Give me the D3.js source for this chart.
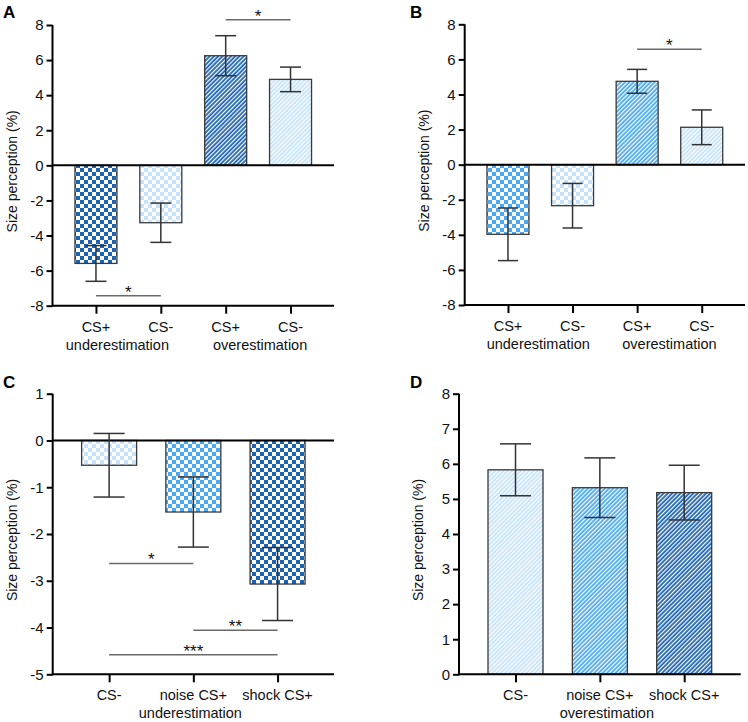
<!DOCTYPE html>
<meta charset="utf-8">
<head>
  <meta charset="UTF-8">
</head>
<style>
body { margin: 0; background: #fff; }
svg { font-family: "Liberation Sans", Arial, sans-serif; }
.axis path, .axis line { stroke: #000; stroke-width: 2; }
.bar { stroke: #3a3a3a; stroke-width: 1.3; }
.err line { stroke: #333; stroke-width: 1.5; }
.sig line { stroke: #6a6a6a; stroke-width: 1.5; }
</style>
<body>
<script src="https://cdn.jsdelivr.net/npm/d3@7/dist/d3.min.js"></script>
<script type="text/javascript">

// --------------------------- data --------------------------
var catsAB = ["CS+", "CS-", "CS+ ", "CS- "];
var catsCD = ["CS-", "noise CS+", "shock CS+"];

var aMeans = [-5.59, -3.27, 6.25, 4.90];
var aSems  = [1.02, 1.12, 1.14, 0.70];
var aFills = ["checkDark", "checkLight", "stripeDark", "stripeLight"];

var bMeans = [-3.97, -2.34, 4.75, 2.13];
var bSems  = [1.50, 1.27, 0.68, 0.99];
var bFills = ["checkMid", "checkLight", "stripeMid", "stripeLight"];

var cMeans = [-0.53, -1.53, -3.07];
var cSems  = [0.68, 0.75, 0.78];
var cFills = ["checkLight", "checkMid", "checkDark"];

var dMeans = [5.83, 5.32, 5.18];
var dSems  = [0.74, 0.85, 0.78];
var dFills = ["stripeLight", "stripeMid", "stripeDark"];

var ticksAB = [-8, -6, -4, -2, 0, 2, 4, 6, 8];
var ticksC  = [-5, -4, -3, -2, -1, 0, 1];
var ticksD  = [0, 1, 2, 3, 4, 5, 6, 7, 8];

// significance brackets: [from index, to index, y value, label]
var aSig = [[2, 3, 8.3, "*"], [0, 1, -7.43, "*"]];
var bSig = [[2, 3, 6.58, "*"]];
var cSig = [[0, 1, -2.63, "*"], [1, 2, -4.06, "**"], [0, 2, -4.58, "***"]];
var dSig = [];

var colors = {dark: "#1c63b5", mid: "#4aa9f3", light: "#c6e3fb"};

// --------------------------- svg + patterns --------------------------
var svg = d3.select("body").append("svg")
    .attr("width", 748)
    .attr("height", 722);

var defs = svg.append("defs");

function checker(id, color) {
  var p = defs.append("pattern")
      .attr("id", id)
      .attr("patternUnits", "userSpaceOnUse")
      .attr("width", 8).attr("height", 8);
  p.append("rect").attr("width", 8).attr("height", 8).attr("fill", "#fff");
  p.append("rect").attr("width", 4).attr("height", 4).attr("fill", color);
  p.append("rect").attr("x", 4).attr("y", 4).attr("width", 4).attr("height", 4).attr("fill", color);
}

function stripes(id, color) {
  var p = defs.append("pattern")
      .attr("id", id)
      .attr("patternUnits", "userSpaceOnUse")
      .attr("width", 3).attr("height", 10)
      .attr("patternTransform", "rotate(45)");
  p.append("rect").attr("width", 3).attr("height", 10).attr("fill", color);
  p.append("rect").attr("width", 1.2).attr("height", 10).attr("fill", "#fff");
}

checker("checkDark", colors.dark);
checker("checkMid", colors.mid);
checker("checkLight", colors.light);
stripes("stripeDark", colors.dark);
stripes("stripeMid", colors.mid);
stripes("stripeLight", colors.light);

// --------------------------- panels --------------------------
function drawPanel(o) {
  var g = svg.append("g");

  var x = d3.scalePoint()
      .domain(o.cats)
      .range([o.x0, o.x1])
      .padding(0.67);

  var y = d3.scaleLinear()
      .domain(o.domain)
      .range([o.yBottom, o.yTop]);

  var rows = o.cats.map(function(c, i) {
    return {cat: c, mean: o.means[i], sem: o.sems[i], fill: o.fills[i]};
  });

  // bars
  g.selectAll(".bar")
      .data(rows)
    .enter().append("rect")
      .attr("class", "bar")
      .attr("x", function(d) { return x(d.cat) - o.barW / 2; })
      .attr("width", o.barW)
      .attr("y", function(d) { return y(Math.max(0, d.mean)); })
      .attr("height", function(d) { return Math.abs(y(d.mean) - y(0)); })
      .attr("fill", function(d) { return "url(#" + d.fill + ")"; });

  // y axis
  var yAxis = g.append("g")
      .attr("class", "axis")
      .attr("transform", "translate(" + o.x0 + ",0)")
      .call(d3.axisLeft(y).tickValues(o.ticks).tickSize(6).tickSizeOuter(0)
        .tickFormat(function(d) { return String(d); }));
  yAxis.selectAll("text").attr("font-size", 15).attr("fill", "#111").attr("x", -9);
  yAxis.select(".domain").attr("d", "M0," + (o.yBottom + 1) + "V" + o.yTop);

  // x axis at the bottom
  var xAxis = g.append("g")
      .attr("class", "axis")
      .attr("transform", "translate(0," + o.yBottom + ")")
      .call(d3.axisBottom(x).tickSize(8).tickSizeOuter(0).tickFormat(""));
  xAxis.select(".domain").attr("d", "M" + o.x0 + ",0H" + o.x1);

  // zero line
  if (o.domain[0] < 0) {
    g.append("line")
        .attr("x1", o.x0).attr("x2", o.x1)
        .attr("y1", y(0)).attr("y2", y(0))
        .attr("stroke", "#000").attr("stroke-width", 2);
  }

  // error bars
  var err = g.selectAll(".err")
      .data(rows)
    .enter().append("g")
      .attr("class", "err");
  err.append("line")
      .attr("x1", function(d) { return x(d.cat); })
      .attr("x2", function(d) { return x(d.cat); })
      .attr("y1", function(d) { return y(d.mean + d.sem); })
      .attr("y2", function(d) { return y(d.mean - d.sem); });
  [1, -1].forEach(function(s) {
    err.append("line")
        .attr("x1", function(d) { return x(d.cat) - o.capW / 2; })
        .attr("x2", function(d) { return x(d.cat) + o.capW / 2; })
        .attr("y1", function(d) { return y(d.mean + s * d.sem); })
        .attr("y2", function(d) { return y(d.mean + s * d.sem); });
  });

  // significance
  var sig = g.selectAll(".sig")
      .data(o.sig)
    .enter().append("g")
      .attr("class", "sig");
  sig.append("line")
      .attr("x1", function(d) { return x(o.cats[d[0]]); })
      .attr("x2", function(d) { return x(o.cats[d[1]]); })
      .attr("y1", function(d) { return y(d[2]); })
      .attr("y2", function(d) { return y(d[2]); });
  sig.append("text")
      .attr("x", function(d) { return (x(o.cats[d[0]]) + x(o.cats[d[1]])) / 2; })
      .attr("y", function(d) { return y(d[2]) + 2; })
      .attr("text-anchor", "middle")
      .attr("font-size", 17)
      .attr("fill", "#111")
      .text(function(d) { return d[3]; });

  // category labels
  g.selectAll(".cat")
      .data(o.cats)
    .enter().append("text")
      .attr("x", function(d) { return x(d); })
      .attr("y", o.yBottom + 26)
      .attr("text-anchor", "middle")
      .attr("font-size", 14.5)
      .attr("fill", "#111")
      .text(function(d) { return d.trim(); });

  // group labels
  g.selectAll(".grp")
      .data(o.groups)
    .enter().append("text")
      .attr("x", function(d) { return (x(o.cats[d.from]) + x(o.cats[d.to])) / 2 + d.dx; })
      .attr("y", o.yBottom + 44)
      .attr("text-anchor", "middle")
      .attr("font-size", 14.5)
      .attr("fill", "#111")
      .text(function(d) { return d.label; });

  // y title
  g.append("text")
      .attr("transform", "translate(" + (o.x0 - 36) + "," + ((o.yTop + o.yBottom) / 2 + 6) + ") rotate(-90)")
      .attr("text-anchor", "middle")
      .attr("font-size", 14)
      .attr("fill", "#111")
      .text("Size perception (%)");

  // panel letter
  g.append("text")
      .attr("x", o.letterX)
      .attr("y", o.letterY)
      .attr("font-size", 17)
      .attr("font-weight", "bold")
      .attr("fill", "#000")
      .text(o.letter);
}

drawPanel({
  letter: "A", letterX: 3, letterY: 18,
  cats: catsAB, means: aMeans, sems: aSems, fills: aFills, sig: aSig,
  x0: 52.5, x1: 334, yTop: 25, yBottom: 305.7, domain: [-8, 8], ticks: ticksAB,
  barW: 42, capW: 21,
  groups: [{from: 0, to: 1, label: "underestimation", dx: -11}, {from: 2, to: 3, label: "overestimation", dx: 2}]
});

drawPanel({
  letter: "B", letterX: 410, letterY: 18,
  cats: catsAB, means: bMeans, sems: bSems, fills: bFills, sig: bSig,
  x0: 464.7, x1: 745, yTop: 24.3, yBottom: 305, domain: [-8, 8], ticks: ticksAB,
  barW: 42, capW: 20,
  groups: [{from: 0, to: 1, label: "underestimation", dx: -2}, {from: 2, to: 3, label: "overestimation", dx: 0}]
});

drawPanel({
  letter: "C", letterX: 3, letterY: 388,
  cats: catsCD, means: cMeans, sems: cSems, fills: cFills, sig: cSig,
  x0: 52.7, x1: 334, yTop: 393.7, yBottom: 674.3, domain: [-5, 1], ticks: ticksC,
  barW: 55, capW: 31,
  groups: [{from: 0, to: 2, label: "underestimation", dx: -3}]
});

drawPanel({
  letter: "D", letterX: 410, letterY: 388,
  cats: catsCD, means: dMeans, sems: dSems, fills: dFills, sig: dSig,
  x0: 459, x1: 740.7, yTop: 393.7, yBottom: 674.3, domain: [0, 8], ticks: ticksD,
  barW: 55, capW: 31,
  groups: [{from: 0, to: 2, label: "overestimation", dx: 7}]
});

</script>
</body>
